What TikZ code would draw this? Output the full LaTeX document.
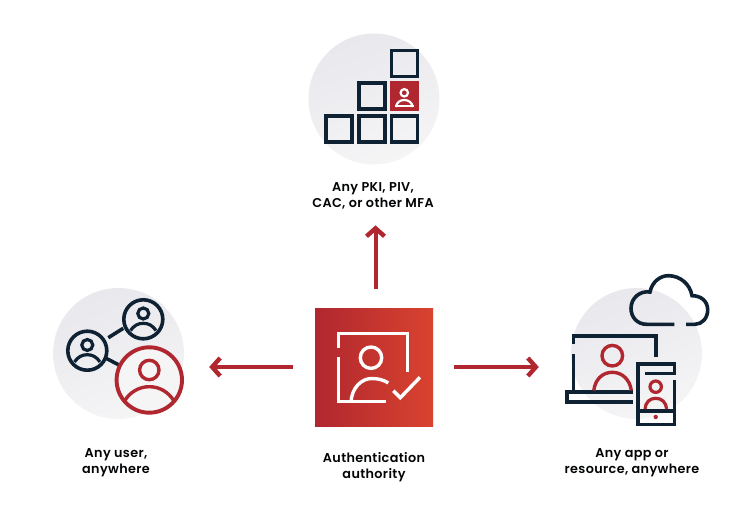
\documentclass[tikz,border=0pt]{standalone}
\usepackage{fontspec}
\setmainfont{Poppins}[UprightFont=* Medium,BoldFont=* SemiBold]
\usetikzlibrary{arrows.meta}

\definecolor{navy}{HTML}{0F2233}
\definecolor{brick}{HTML}{B0272F}
\definecolor{flame}{HTML}{D42E1A}
\definecolor{ember}{HTML}{D9432F}
\definecolor{mist}{HTML}{E8E8ED}
\definecolor{haze}{HTML}{F5F5F6}

\tikzstyle{disc} = [circle, minimum size=131pt, inner sep=0pt, left color=mist, right color=haze, shading angle=20]
\tikzstyle{caption} = [align=center, font=\fontsize{12.8}{16}\selectfont\bfseries\addfontfeatures{LetterSpace=2.8}, text=black!90!navy]
\tikzstyle{arrow} = [line width=4pt, brick, -{Straight Barb[length=8pt,width=18pt,line width=4.4pt]}]
\tikzstyle{navyline} = [line width=3.6pt, navy]
\tikzstyle{brickline} = [line width=3.4pt, brick]
\tikzstyle{whiteline} = [line width=3.4pt, white]
\tikzstyle{box} = [rectangle, minimum size=26pt, inner sep=0pt, line width=3.7pt, draw=navy]

\begin{document}
\begin{tikzpicture}[x=1pt, y=-1pt]
	\useasboundingbox (0,0) rectangle (750,524);
	% Place nodes
	\node [disc] (pkidisc) at (374,99) {};
	\node [disc] (userdisc) at (118.5,353.5) {};
	\node [disc] (appdisc) at (636.5,353.5) {};
	\node [rectangle, minimum size=118pt, inner sep=0pt, left color=brick, middle color=flame, right color=ember] (authority) at (374,367) {};
	\node [caption] (pkilabel) at (373,196) {Any PKI, PIV,\\CAC, or other MFA};
	\node [caption] (userlabel) at (116,462.5) {Any user,\\anywhere};
	\node [caption] (authlabel) at (374,467.5) {Authentication\\authority};
	\node [caption] (applabel) at (632,462.5) {Any app or\\resource, anywhere};
	% Draw edges
	\draw [arrow, shorten <=19pt, shorten >=12.5pt] ([xshift=1.5pt]authority.north) -- ([xshift=1.5pt]pkilabel.south -| authority.north);
	\draw [arrow, shorten <=22pt, shorten >=25pt] (authority.west) -- (userdisc.east |- authority.west);
	\draw [arrow, shorten <=21pt, shorten >=32pt] (authority.east) -- (appdisc.west |- authority.east);
	% PKI boxes
	\node [box] (boxtop) at (404.5,63.5) {};
	\node [box] (boxmid) at (372,96) {};
	\node [box, fill=brick, draw=brick] (boxred) at (404.5,96) {};
	\node [box] (boxa) at (339,128.7) {};
	\node [box] (boxb) at (372,128.7) {};
	\node [box] (boxc) at (404.5,128.7) {};
	\draw [whiteline, line width=2.2pt] (404.3,92.8) circle (3.7);
	\draw [whiteline, line width=2.2pt] (396,107) .. controls (396.5,102.5) and (400,100) .. (404.3,100) .. controls (408.5,100) and (412,102.5) .. (412.8,107);
	\draw [whiteline, line width=2.2pt] (395,106.3) -- (414,106.3);
	% authority icon
	\draw [whiteline] (338.7,348.3) -- (338.7,333.3) -- (407.3,333.3) -- (407.3,372.3);
	\draw [whiteline] (386,401.7) -- (338.7,401.7) -- (338.7,357.3);
	\draw [whiteline] (371,357.7) circle (10.7);
	\draw [whiteline] (351,401.7) .. controls (352,388) and (361,378.5) .. (372,378.5) .. controls (378,378.5) and (384,380) .. (388.3,383);
	\draw [whiteline] (393.3,390.7) -- (400.3,397.7) -- (420,377.3);
	% user icon
	\draw [navyline] (143.3,319.3) circle (19.5);
	\draw [navyline] (87.3,350.7) circle (19.5);
	\draw [navyline] (108.3,337.7) -- (123.3,328.3);
	\draw [navyline] (106.5,358.5) -- (119,365);
	\draw [navyline, line width=3.2pt] (143.3,313.5) circle (5.5);
	\draw [navyline, line width=3.2pt] (130.5,330.5) .. controls (134,325.5) and (138,323.3) .. (143.3,323.3) .. controls (148.5,323.3) and (152.5,325.5) .. (156,330.5);
	\draw [navyline, line width=3.2pt] (87.3,345) circle (5.5);
	\draw [navyline, line width=3.2pt] (74.5,361.9) .. controls (78,356.9) and (82,354.7) .. (87.3,354.7) .. controls (92.5,354.7) and (96.5,356.9) .. (100,361.9);
	\draw [brickline, line width=3.9pt, fill=haze] (149.3,380) circle (32.7);
	\draw [brickline] (149.3,370) circle (9.7);
	\draw [brickline] (124.5,401) .. controls (130,392) and (139,386.7) .. (149.3,386.7) .. controls (159.5,386.7) and (168.5,392) .. (174,401);
	% app icon
	\draw [navyline] (674.3,324.3) -- (646.7,324.3) .. controls (637,324.3) and (631,317) .. (631,308.3) .. controls (631,298) and (640,290.5) .. (650,292) .. controls (652,282) and (660,275.7) .. (668.3,275.7) .. controls (680,275.7) and (690,284) .. (692,295.7) .. controls (701,295.7) and (707.7,301) .. (707.7,310) .. controls (707.7,318) and (702,324.3) .. (695,324.3) -- (686,324.3);
	\draw [navyline] (573.3,344.3) -- (573.3,335.7) -- (656,335.7) -- (656,357.3);
	\draw [navyline] (573.3,354.3) -- (573.3,391.7);
	\draw [navyline] (633.3,391.7) -- (566.7,391.7) -- (566.7,401.7) -- (633.3,401.7);
	\draw [brickline] (612.3,355.7) circle (10.3);
	\draw [brickline] (593.8,390.5) .. controls (595,380) and (602,372.3) .. (612.3,372.3) .. controls (622.5,372.3) and (630,380) .. (631.3,390.5);
	\draw [navyline] (645,373.3) -- (674.3,373.3) -- (674.3,363.7) -- (637.7,363.7) -- (637.7,424.3) -- (674.3,424.3) -- (674.3,380);
	\draw [navyline] (637.7,410.7) -- (674.3,410.7);
	\draw [brickline, line width=3.2pt] (655.7,386.7) circle (5.7);
	\draw [brickline, line width=3.2pt] (645,409) .. controls (645.5,402) and (650,398.3) .. (655.7,398.3) .. controls (661.5,398.3) and (666,402) .. (666.7,409);
	\fill [brick] (655.7,417) circle (2.2);
\end{tikzpicture}
\end{document}
